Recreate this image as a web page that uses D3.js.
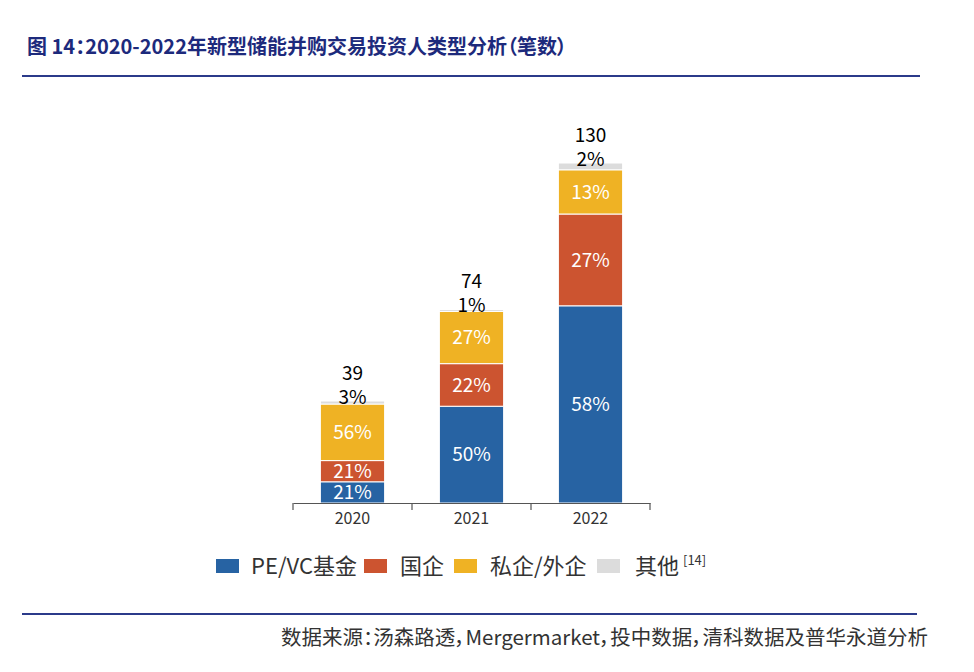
<!DOCTYPE html>
<html><head><meta charset="utf-8">
<script src="https://cdn.jsdelivr.net/npm/d3@7"></script>
<style>
body{margin:0;background:#fff;}
svg{display:block;font-family:"Noto Sans CJK SC","Noto Sans",sans-serif;}
.palt{font-feature-settings:"palt" 1;}
</style></head>
<body><svg id="c" width="974" height="672"></svg>
<script>
const years = ["2020","2021","2022"];
const totals = [39, 74, 130];
const seriesNames = ["PE/VC基金","国企","私企/外企","其他"];
const peVc = [21, 50, 58];
const stateOwned = [21, 22, 27];
const privateForeign = [56, 27, 13];
const others = [3, 1, 2];
const colors = ["#2763a3","#cc5430","#efb224","#dcdcdc"];
const title = "图 14：2020-2022年新型储能并购交易投资人类型分析（笔数）";
const source = "数据来源：汤森路透，Mergermarket，投中数据，清科数据及普华永道分析";

const svg = d3.select("#c");
const pcts = [peVc, stateOwned, privateForeign, others];

// title
svg.append("text").attr("class","palt").attr("x",27).attr("y",54).attr("fill","#1d2a7c")
  .attr("font-size",20).attr("font-weight","bold").text(title);
svg.append("line").attr("x1",22).attr("x2",920).attr("y1",76).attr("y2",76)
  .attr("stroke","#2b3a8a").attr("stroke-width",2);

const x = d3.scaleBand().domain(years).range([293,650]).paddingInner(0.46).paddingOuter(0.23);
const y = d3.scaleLinear().domain([0,130]).range([503,163]);

// build stacks
const rows = years.map((yr,i)=>{
  const sum = pcts.reduce((a,p)=>a+p[i],0);
  let acc = 0;
  const segs = pcts.map((p,k)=>{
    const v0 = acc, v = p[i]*totals[i]/sum; acc += v;
    return {k, yr, y0:v0, y1:acc, pct:p[i]};
  });
  return {yr, total:totals[i], segs};
});

const g = svg.append("g");
rows.forEach(r=>{
  r.segs.forEach(s=>{
    g.append("rect").attr("x",x(s.yr)).attr("width",x.bandwidth())
      .attr("y",y(s.y1)).attr("height",y(s.y0)-y(s.y1))
      .attr("fill",colors[s.k]).attr("stroke","#fff").attr("stroke-width",1);
    if(s.k<3){
      g.append("text").attr("x",x(s.yr)+x.bandwidth()/2).attr("y",(y(s.y0)+y(s.y1))/2)
        .attr("dy","0.36em").attr("text-anchor","middle").attr("fill","#fff")
        .attr("font-size",19).text(s.pct+"%");
    }
  });
  const top = y(r.total);
  const cx = x(r.yr)+x.bandwidth()/2;
  g.append("text").attr("x",cx).attr("y",top+3).attr("text-anchor","middle")
    .attr("fill","#000").attr("font-size",19).text(r.segs[3].pct+"%");
  g.append("text").attr("x",cx).attr("y",top-21).attr("text-anchor","middle")
    .attr("fill","#000").attr("font-size",19).text(r.total);
});

// axis
const ax = svg.append("g").attr("transform","translate(0,503)")
  .call(d3.axisBottom(x).tickSize(0).tickPadding(10));
ax.select(".domain").attr("stroke","#555").attr("stroke-width",1.2);
ax.selectAll("text").attr("font-size",16).attr("fill","#333")
  .attr("font-family","'Noto Sans CJK SC','Noto Sans',sans-serif");
// boundary ticks
const step = x.step();
const bounds = [x(years[0]) - x.paddingOuter()*step].concat(years.map(d=>x(d)+x.bandwidth()+ (x.paddingInner()*step)/2));
bounds[bounds.length-1] = 650;
bounds.forEach(b=>{
  svg.append("line").attr("x1",b).attr("x2",b).attr("y1",503).attr("y2",510)
    .attr("stroke","#555").attr("stroke-width",1.2);
});

// legend
const legX = [216, 364, 454, 597];
const legTX = [251, 400, 490, 635];
const leg = svg.append("g");
seriesNames.forEach((n,i)=>{
  leg.append("rect").attr("x",legX[i]).attr("y",559).attr("width",23).attr("height",14).attr("fill",colors[i]);
  const t = leg.append("text").attr("x",legTX[i]).attr("y",574).attr("font-size",22).attr("fill","#333").text(n);
  if(i===3){
    t.append("tspan").attr("font-size",13).attr("dy",-9).attr("dx",4).text("[14]");
  }
});

// footer
svg.append("line").attr("x1",22).attr("x2",917).attr("y1",614).attr("y2",614)
  .attr("stroke","#2b3a8a").attr("stroke-width",2);
svg.append("text").attr("class","palt").attr("x",928).attr("y",645).attr("text-anchor","end")
  .attr("font-size",20.5).attr("fill","#333").text(source);
</script></body></html>
